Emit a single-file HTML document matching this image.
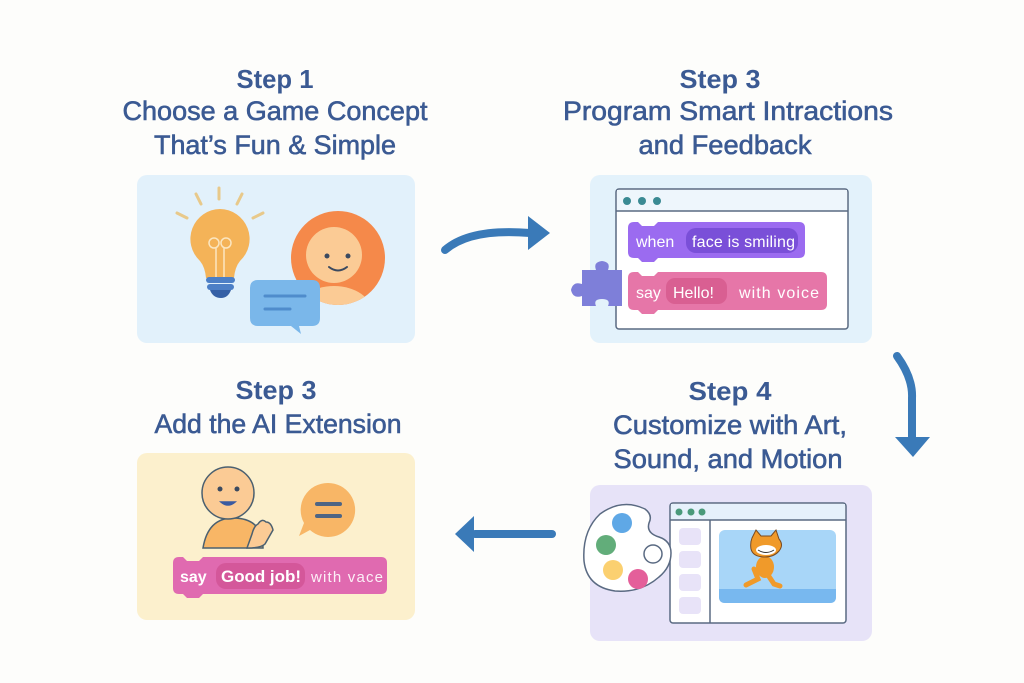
<!DOCTYPE html>
<html><head><meta charset="utf-8"><style>
html,body{margin:0;padding:0;background:#fdfdfb;}
svg{display:block;}
.t{font-family:"Liberation Sans",sans-serif;fill:#3b5a93;text-anchor:middle;}
.h{font-weight:bold;font-size:26px;}
.s{font-size:27px;stroke:#3b5a93;stroke-width:0.6px;}
.b{font-family:"Liberation Sans",sans-serif;fill:#fff;}
</style></head><body>
<svg width="1024" height="683" viewBox="0 0 1024 683" xmlns="http://www.w3.org/2000/svg">
<defs><clipPath id="fc"><circle cx="338" cy="258" r="47"/></clipPath></defs>
<rect width="1024" height="683" fill="#fdfdfb"/>
<text class="t h" x="275" y="88" textLength="77" lengthAdjust="spacingAndGlyphs">Step 1</text>
<text class="t s" x="275" y="120" textLength="305" lengthAdjust="spacingAndGlyphs">Choose a Game Concept</text>
<text class="t s" x="275" y="154" textLength="242" lengthAdjust="spacingAndGlyphs">That’s Fun &amp; Simple</text>
<text class="t h" x="720" y="88" textLength="81" lengthAdjust="spacingAndGlyphs">Step 3</text>
<text class="t s" x="728" y="120" textLength="330" lengthAdjust="spacingAndGlyphs">Program Smart Intractions</text>
<text class="t s" x="725" y="154" textLength="173" lengthAdjust="spacingAndGlyphs">and Feedback</text>
<text class="t h" x="276" y="399" textLength="81" lengthAdjust="spacingAndGlyphs">Step 3</text>
<text class="t s" x="278" y="433" textLength="247" lengthAdjust="spacingAndGlyphs">Add the AI Extension</text>
<text class="t h" x="730" y="400" textLength="83" lengthAdjust="spacingAndGlyphs">Step 4</text>
<text class="t s" x="730" y="434" textLength="234" lengthAdjust="spacingAndGlyphs">Customize with Art,</text>
<text class="t s" x="728" y="468" textLength="229" lengthAdjust="spacingAndGlyphs">Sound, and Motion</text>

<rect x="137" y="175" width="278" height="168" rx="10" fill="#e2f1fb"/>
<rect x="590" y="175" width="282" height="168" rx="10" fill="#e3f2fb"/>
<rect x="137" y="453" width="278" height="167" rx="10" fill="#fcf0cd"/>
<rect x="590" y="485" width="282" height="156" rx="10" fill="#e7e3f8"/>

<path d="M445 250 Q470 228 530 233" fill="none" stroke="#3a7ab8" stroke-width="8" stroke-linecap="round"/>
<polygon points="528,216 550,233 528,250" fill="#3a7ab8"/>
<path d="M897 356 Q913 378 912 398 L912 437" fill="none" stroke="#3a7ab8" stroke-width="8" stroke-linecap="round"/>
<polygon points="895,437 930,437 913,457" fill="#3a7ab8"/>
<line x1="552" y1="534" x2="475" y2="534" stroke="#3a7ab8" stroke-width="8" stroke-linecap="round"/>
<polygon points="474,516 455,534 474,552" fill="#3a7ab8"/>

<g stroke="#e8c98a" stroke-width="3" stroke-linecap="round">
<line x1="219" y1="188" x2="219" y2="199"/><line x1="196" y1="194" x2="201" y2="204"/><line x1="242" y1="194" x2="237" y2="204"/>
<line x1="177" y1="213" x2="187" y2="218"/><line x1="263" y1="213" x2="253" y2="218"/>
</g>
<path d="M220 209 a30 30 0 0 1 20 52 q-5 6 -6 17 h-28 q-1 -11 -6 -17 a30 30 0 0 1 20 -52z" fill="#f4b358"/>
<g fill="none" stroke="#fbe6c0" stroke-width="1.5"><circle cx="214" cy="243" r="5"/><circle cx="226" cy="243" r="5"/><path d="M216 248 v30 M224 248 v30"/></g>
<rect x="206" y="277" width="29" height="6" rx="3" fill="#4c7fc6"/>
<rect x="207" y="284" width="27" height="6" rx="3" fill="#4c7fc6"/>
<path d="M210 290 h21 q-3 8 -10 8 q-8 0 -11 -8z" fill="#3560a5"/>
<circle cx="338" cy="258" r="47" fill="#f5894a"/>
<g clip-path="url(#fc)"><ellipse cx="334" cy="312" rx="38" ry="26" fill="#fbcb95"/></g>
<circle cx="334" cy="255" r="28" fill="#fbcb95"/>
<circle cx="327" cy="256" r="2.5" fill="#3b4a60"/><circle cx="348" cy="256" r="2.5" fill="#3b4a60"/>
<path d="M329 267 q9 7 18 0" fill="none" stroke="#3b4a60" stroke-width="2" stroke-linecap="round"/>
<path d="M258 280 h54 q8 0 8 8 v30 q0 8 -8 8 h-13 l2 8 -10 -8 h-33 q-8 0 -8 -8 v-30 q0 -8 8 -8z" fill="#7ab7ea"/>
<line x1="265" y1="296" x2="305" y2="296" stroke="#4f8ccc" stroke-width="3" stroke-linecap="round"/>
<line x1="265" y1="309" x2="290" y2="309" stroke="#4f8ccc" stroke-width="3" stroke-linecap="round"/>

<rect x="616" y="189" width="232" height="140" rx="3" fill="#fff" stroke="#5a6a82" stroke-width="1.5"/>
<rect x="617" y="190" width="230" height="21" fill="#eef6fc"/>
<line x1="616" y1="211" x2="848" y2="211" stroke="#5a6a82" stroke-width="1.5"/>
<circle cx="627" cy="201" r="4" fill="#3a8a93"/><circle cx="642" cy="201" r="4" fill="#3a8a93"/><circle cx="657" cy="201" r="4" fill="#3a8a93"/>
<path d="M634 222 h4 l4 4 h12 l4 -4 h141 q6 0 6 6 v24 q0 6 -6 6 h-141 l-4 4 h-12 l-4 -4 h-4 q-6 0 -6 -6 v-24 q0 -6 6 -6z" fill="#9b6bf0"/>
<rect x="686" y="228" width="112" height="25" rx="10" fill="#7a4fd8"/>
<text class="b" x="636" y="247" font-size="16">when</text>
<text class="b" x="692" y="247" font-size="16" textLength="103">face is smiling</text>
<path d="M634 272 h4 l4 4 h12 l4 -4 h163 q6 0 6 6 v26 q0 6 -6 6 h-163 l-4 4 h-12 l-4 -4 h-4 q-6 0 -6 -6 v-26 q0 -6 6 -6z" fill="#e676a8"/>
<rect x="666" y="278" width="61" height="26" rx="9" fill="#d95f92"/>
<text class="b" x="636" y="298" font-size="16">say</text>
<text class="b" x="673" y="298" font-size="16">Hello!</text>
<text class="b" x="739" y="298" font-size="16" textLength="80">with voice</text>
<path d="M582 270 h14 q-3 -8 6 -9 q9 1 6 9 h14 v36 h-14 q3 -7 -6 -7 q-9 0 -6 7 h-14 v-10 q-9 3 -11 -6 q2 -9 11 -6z" fill="#7e7fd9"/>

<path d="M203 548 q5 -30 30 -30 q30 0 30 30z" fill="#f8b666" stroke="#4b6070" stroke-width="1.5"/>
<path d="M247 548 l5 -14 q2 -8 6 -10 q4 -6 8 -2 q5 0 7 8 l-8 14 q-4 4 -18 4z" fill="#fbcb95" stroke="#4b6070" stroke-width="1.5"/>
<circle cx="228" cy="493" r="26" fill="#fbcb95" stroke="#4b6070" stroke-width="1.5"/>
<circle cx="220" cy="489" r="2.5" fill="#3b4a60"/><circle cx="237" cy="489" r="2.5" fill="#3b4a60"/>
<path d="M221 502 q7 6 14 0z" fill="#3b5aa0" stroke="#3b5aa0" stroke-width="1.5"/>
<path d="M328 483 a27 27 0 1 1 -18 47 l-11 6 5 -13 a27 27 0 0 1 24 -40z" fill="#f8b666"/>
<line x1="317" y1="504" x2="340" y2="504" stroke="#4e6584" stroke-width="4" stroke-linecap="round"/>
<line x1="317" y1="516" x2="340" y2="516" stroke="#4e6584" stroke-width="4" stroke-linecap="round"/>
<path d="M179 557 h4 l4 4 h12 l4 -4 h178 q6 0 6 6 v25 q0 6 -6 6 h-178 l-4 4 h-12 l-4 -4 h-4 q-6 0 -6 -6 v-25 q0 -6 6 -6z" fill="#e06ab0"/>
<rect x="216" y="563" width="89" height="26" rx="10" fill="#d4579a"/>
<text class="b" x="180" y="582" font-size="16" font-weight="bold">say</text>
<text class="b" x="221" y="582" font-size="17" font-weight="bold" textLength="80">Good job!</text>
<text class="b" x="311" y="582" font-size="15" textLength="72" fill-opacity="0.9">with vace</text>

<rect x="670" y="503" width="176" height="120" rx="3" fill="#fff" stroke="#5a6a82" stroke-width="1.5"/>
<rect x="671" y="504" width="174" height="16" fill="#e6f1fb"/>
<line x1="670" y1="520" x2="846" y2="520" stroke="#5a6a82" stroke-width="1.5"/>
<line x1="710" y1="520" x2="710" y2="623" stroke="#5a6a82" stroke-width="1.5"/>
<circle cx="679" cy="512" r="3.5" fill="#4a9a7a"/><circle cx="691" cy="512" r="3.5" fill="#4a9a7a"/><circle cx="702" cy="512" r="3.5" fill="#4a9a7a"/>
<g fill="#e8e3f8"><rect x="679" y="528" width="22" height="17" rx="4"/><rect x="679" y="551" width="22" height="17" rx="4"/><rect x="679" y="574" width="22" height="17" rx="4"/><rect x="679" y="597" width="22" height="17" rx="4"/></g>
<rect x="719" y="530" width="117" height="73" rx="6" fill="#a8d6f8"/>
<path d="M719 589 h117 v8 q0 6 -6 6 h-105 q-6 0 -6 -6z" fill="#78b8ef"/>
<path d="M746 585 l12 -6 -4 -10" fill="none" stroke="#f09a2a" stroke-width="5" stroke-linecap="round"/>
<path d="M768 575 l6 9 6 2" fill="none" stroke="#f09a2a" stroke-width="5" stroke-linecap="round"/>
<ellipse cx="765" cy="567" rx="9" ry="11" fill="#f09a2a"/>
<path d="M752 538 l4 -8 5 6 h10 l5 -6 3 9 q5 6 0 12 q-5 6 -14 6 q-12 0 -14 -8 q-1 -6 1 -11z" fill="#f09a2a" stroke="#7a4a20" stroke-width="1"/>
<ellipse cx="766" cy="550" rx="10" ry="5" fill="#fff"/>
<path d="M758 550 q8 5 16 0" fill="none" stroke="#333" stroke-width="1"/>
<path d="M600 514 q22 -16 45 -5 q8 6 4 14 q-3 10 10 14 q12 4 12 16 q0 14 -12 24 q-18 16 -44 14 q-28 -4 -31 -30 q-2 -30 16 -47z" fill="#fff" stroke="#5a6a82" stroke-width="1.5"/>
<circle cx="622" cy="523" r="10" fill="#5fa8e6"/>
<circle cx="606" cy="545" r="10" fill="#62ad7a"/>
<circle cx="613" cy="570" r="10" fill="#fbd070"/>
<circle cx="638" cy="579" r="10" fill="#e45f9a"/>
<circle cx="653" cy="554" r="9" fill="#fff" stroke="#5a6a82" stroke-width="1.5"/>
</svg>
</body></html>
